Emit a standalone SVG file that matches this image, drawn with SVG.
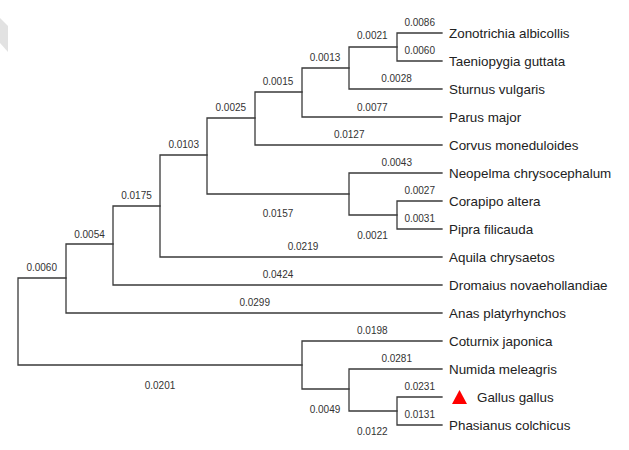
<svg xmlns="http://www.w3.org/2000/svg" width="629" height="450" viewBox="0 0 629 450">
<style>
.e{fill:none;stroke:#3a3a3a;stroke-width:1.3;stroke-linecap:square}
.b{font-family:"Liberation Sans",Arial,sans-serif;font-size:10px;fill:#333;text-anchor:middle}
.t{font-family:"Liberation Sans",Arial,sans-serif;font-size:13.4px;fill:#222}
</style>
<rect width="629" height="450" fill="#fff"/>
<polygon points="0,18 8,26 8,52 0,43" fill="#e2e2e2"/>
<g id="connectors">
<path class="e" d="M397,33H442M397,61H442M397,33V61"/>
<path class="e" d="M349,47H397M349,89H442M349,47V89"/>
<path class="e" d="M302,68H349M302,117H442M302,68V117"/>
<path class="e" d="M255,92H302M255,145H442M255,92V145"/>
<path class="e" d="M397,201H442M397,229H442M397,201V229"/>
<path class="e" d="M349,173H442M349,215H397M349,173V215"/>
<path class="e" d="M207,118H255M207,194H349M207,118V194"/>
<path class="e" d="M160,155H207M160,257H442M160,155V257"/>
<path class="e" d="M113,206H160M113,285H442M113,206V285"/>
<path class="e" d="M66,244H113M66,313H442M66,244V313"/>
<path class="e" d="M397,397H442M397,425H442M397,397V425"/>
<path class="e" d="M349,369H442M349,411H397M349,369V411"/>
<path class="e" d="M302,341H442M302,389H349M302,341V389"/>
<path class="e" d="M18,278H66M18,365H302M18,278V365"/>
</g>
<g id="branch-lengths">
<text class="b" x="419.7" y="26">0.0086</text>
<text class="b" x="419.7" y="54">0.0060</text>
<text class="b" x="372.3" y="39.3">0.0021</text>
<text class="b" x="325" y="60.7">0.0013</text>
<text class="b" x="396.5" y="82.3">0.0028</text>
<text class="b" x="372.3" y="110.7">0.0077</text>
<text class="b" x="349.2" y="138.3">0.0127</text>
<text class="b" x="278" y="84.7">0.0015</text>
<text class="b" x="230.8" y="110.7">0.0025</text>
<text class="b" x="183.7" y="148.3">0.0103</text>
<text class="b" x="396.7" y="166">0.0043</text>
<text class="b" x="419.7" y="194">0.0027</text>
<text class="b" x="419.7" y="222">0.0031</text>
<text class="b" x="372.5" y="239.3">0.0021</text>
<text class="b" x="278" y="217.3">0.0157</text>
<text class="b" x="303" y="250">0.0219</text>
<text class="b" x="136.5" y="198.7">0.0175</text>
<text class="b" x="89.5" y="238">0.0054</text>
<text class="b" x="41.7" y="271.3">0.0060</text>
<text class="b" x="278" y="278.3">0.0424</text>
<text class="b" x="254.7" y="306">0.0299</text>
<text class="b" x="372.3" y="334">0.0198</text>
<text class="b" x="396.7" y="362">0.0281</text>
<text class="b" x="419.7" y="390">0.0231</text>
<text class="b" x="325" y="413.3">0.0049</text>
<text class="b" x="419.7" y="418">0.0131</text>
<text class="b" x="372.3" y="434.7">0.0122</text>
<text class="b" x="160" y="389">0.0201</text>
</g>
<g id="leaf-zonotrichia"><text class="t" x="449" y="37.7">Zonotrichia albicollis</text></g>
<g id="leaf-taeniopygia"><text class="t" x="449" y="65.7">Taeniopygia guttata</text></g>
<g id="leaf-sturnus"><text class="t" x="449" y="93.7">Sturnus vulgaris</text></g>
<g id="leaf-parus"><text class="t" x="449" y="121.7">Parus major</text></g>
<g id="leaf-corvus"><text class="t" x="449" y="149.7">Corvus moneduloides</text></g>
<g id="leaf-neopelma"><text class="t" x="449" y="177.7">Neopelma chrysocephalum</text></g>
<g id="leaf-corapipo"><text class="t" x="449" y="205.7">Corapipo altera</text></g>
<g id="leaf-pipra"><text class="t" x="449" y="233.7">Pipra filicauda</text></g>
<g id="leaf-aquila"><text class="t" x="449" y="261.7">Aquila chrysaetos</text></g>
<g id="leaf-dromaius"><text class="t" x="449" y="289.7">Dromaius novaehollandiae</text></g>
<g id="leaf-anas"><text class="t" x="449" y="317.7">Anas platyrhynchos</text></g>
<g id="leaf-coturnix"><text class="t" x="449" y="345.7">Coturnix japonica</text></g>
<g id="leaf-numida"><text class="t" x="449" y="373.7">Numida meleagris</text></g>
<g id="leaf-gallus"><polygon points="452,404 467,404 459.5,390" fill="#ff0000"/><text class="t" x="477" y="401.7">Gallus gallus</text></g>
<g id="leaf-phasianus"><text class="t" x="449" y="429.7">Phasianus colchicus</text></g>
</svg>
